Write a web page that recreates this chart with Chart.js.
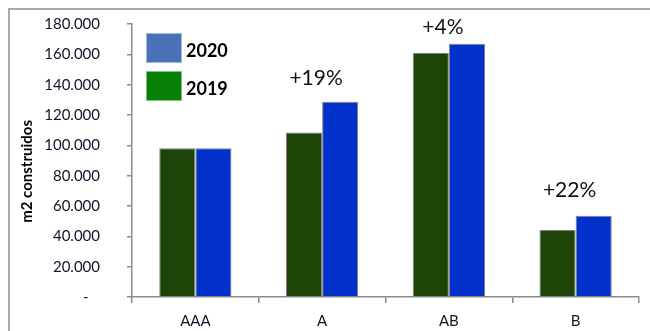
<!DOCTYPE html>
<html>
<head>
<meta charset="utf-8">
<script src="https://cdn.jsdelivr.net/npm/chart.js@4/dist/chart.umd.min.js"></script>
<style>
  html, body { margin: 0; padding: 0; background: #fff; }
  #wrap { width: 650px; height: 331px; }
</style>
</head>
<body>
<div id="wrap"><canvas id="chart" width="650" height="331"></canvas></div>
<script>
// data
const categories = ['AAA', 'A', 'AB', 'B'];
const values2019 = [98000, 108500, 161000, 44200];
const values2020 = [98000, 128800, 167000, 53500];
const growthLabels = ['', '+19%', '+4%', '+22%'];
const growthAnchor = [null, 144000, 178000, 70500];
const yTicks = [0, 20000, 40000, 60000, 80000, 100000, 120000, 140000, 160000, 180000];

const FONT = 'Lato, "Open Sans", sans-serif';
const AXIS_GRAY = '#8c8c8c';

// outer frame like the spreadsheet chart box
const frame = {
    id: 'frame',
    beforeDraw(chart) {
        const ctx = chart.ctx;
        ctx.save();
        ctx.strokeStyle = '#a9a9a9';
        ctx.lineWidth = 2;
        ctx.strokeRect(9, 9, chart.width + 10, chart.height + 10);
        ctx.restore();
    }
};

// legend boxes at the top left of the plot
const boxLegend = {
    id: 'boxLegend',
    afterDraw(chart) {
        const ctx = chart.ctx;
        const items = [
            { text: '2020', color: '#4a72b8', y: 33 },
            { text: '2019', color: '#068006', y: 71 }
        ];
        ctx.save();
        items.forEach(it => {
            ctx.fillStyle = it.color;
            ctx.fillRect(146, it.y, 36, 30);
            ctx.strokeStyle = 'rgba(255,255,255,0.5)';
            ctx.lineWidth = 1;
            ctx.strokeRect(146.5, it.y + 0.5, 35, 29);
            ctx.fillStyle = '#000';
            ctx.font = 'bold 18px ' + FONT;
            ctx.textBaseline = 'middle';
            ctx.textAlign = 'left';
            ctx.fillText(it.text, 186, it.y + 18);
        });
        ctx.restore();
    }
};

// growth labels above each pair
const growth = {
    id: 'growth',
    afterDatasetsDraw(chart) {
        const ctx = chart.ctx;
        const x = chart.scales.x;
        const y = chart.scales.y;
        ctx.save();
        ctx.font = '21px ' + FONT;
        ctx.fillStyle = '#111';
        ctx.textAlign = 'center';
        ctx.textBaseline = 'middle';
        growthLabels.forEach((t, i) => {
            if (!t) return;
            ctx.fillText(t, x.getPixelForValue(i) - 6, y.getPixelForValue(growthAnchor[i]));
        });
        ctx.restore();
    }
};

new Chart(document.getElementById('chart'), {
    type: 'bar',
    data: {
        labels: categories,
        datasets: [
            {
                label: '2019',
                data: values2019,
                backgroundColor: '#1d4406',
                borderColor: '#808080',
                borderWidth: 1
            },
            {
                label: '2020',
                data: values2020,
                backgroundColor: '#0230cb',
                borderColor: '#808080',
                borderWidth: 1
            }
        ]
    },
    options: {
        responsive: false,
        animation: false,
        layout: { padding: { top: 24, right: 11, bottom: 0, left: 0 } },
        datasets: {
            bar: { categoryPercentage: 0.57, barPercentage: 1 }
        },
        plugins: {
            legend: { display: false },
            tooltip: { enabled: false }
        },
        scales: {
            x: {
                grid: {
                    drawOnChartArea: false,
                    color: AXIS_GRAY,
                    tickLength: 6,
                    lineWidth: 1.5
                },
                border: { color: AXIS_GRAY, width: 1.5 },
                ticks: {
                    color: '#141428',
                    font: { family: FONT, size: 15 },
                    padding: 9
                },
                afterFit(scale) { scale.height = 34; }
            },
            y: {
                min: 0,
                max: 180000,
                afterBuildTicks(scale) {
                    scale.ticks = yTicks.map(v => ({ value: v }));
                },
                grid: {
                    drawOnChartArea: false,
                    color: AXIS_GRAY,
                    tickLength: 5,
                    lineWidth: 1.5
                },
                border: { color: AXIS_GRAY, width: 1.5 },
                ticks: {
                    color: '#141428',
                    font: { family: FONT, size: 15 },
                    padding: 27,
                    callback: v => v === 0 ? '-   ' : (v / 1000) + '.000'
                },
                title: {
                    display: true,
                    // trailing spaces nudge the centred title a bit lower
                    text: 'm2 construidos      ',
                    color: '#000',
                    font: { family: FONT, size: 15, weight: 'bold' },
                    padding: { top: 18, bottom: 0 }
                },
                afterFit(scale) {
                    scale.width = 132;
                    scale.paddingTop = 0;
                    scale.paddingBottom = 0;
                }
            }
        }
    },
    plugins: [frame, boxLegend, growth]
});
</script>
</body>
</html>
